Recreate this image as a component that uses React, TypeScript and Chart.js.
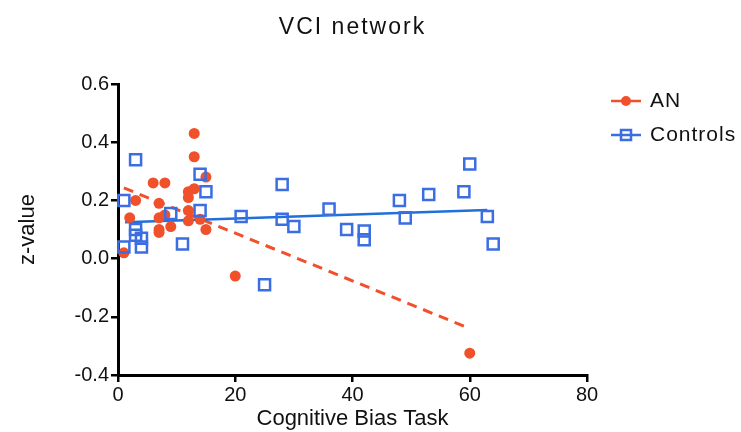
import { useEffect, useRef } from 'react';
import { Chart, registerables } from 'chart.js';

Chart.register(...registerables);

const chartTitle = 'VCI network';
const xTitle = 'Cognitive Bias Task';
const yTitle = 'z-value';
const seriesNames = ['AN', 'Controls'];

const anX = [1, 2, 3, 6, 8, 7, 7, 7, 7, 9, 8, 13, 13, 12, 13, 12, 12, 12, 15, 14, 15, 20, 60];
const anY = [0.02, 0.14, 0.2, 0.26, 0.26, 0.19, 0.14, 0.1, 0.09, 0.11, 0.15, 0.43, 0.35, 0.23, 0.24, 0.21, 0.165, 0.13, 0.28, 0.135, 0.1, -0.06, -0.325];

const ctX = [1, 1, 3, 3, 3, 4, 4, 9, 11, 14, 15, 14, 21, 25, 28, 28, 30, 36, 39, 42, 42, 48, 49, 53, 59, 60, 63, 64];
const ctY = [0.2, 0.04, 0.34, 0.1, 0.08, 0.07, 0.04, 0.155, 0.05, 0.29, 0.23, 0.165, 0.145, -0.09, 0.255, 0.135, 0.11, 0.17, 0.1, 0.095, 0.065, 0.2, 0.14, 0.22, 0.23, 0.325, 0.145, 0.05];

const anFitX = [1, 59.5];
const anFitY = [0.243, -0.236];
const ctFitX = [1.2, 63];
const ctFitY = [0.125, 0.167];

const xTicks = [0, 20, 40, 60, 80];
const yTicks = [-0.4, -0.2, 0, 0.2, 0.4, 0.6];

const RED = '#F0502A';
const BLUE = '#3A6EE2';
const BLUE_LINE = '#1F6FDC';
const INK = '#111111';
const FONT = "'Liberation Sans', Arial, sans-serif";

const zip = (xs: number[], ys: number[]) => xs.map((x, i) => ({ x, y: ys[i] }));

const overlayPlugin = {
  id: 'overlay',
  afterDraw(chart: any) {
    const ctx = chart.ctx as CanvasRenderingContext2D;
    const area = chart.chartArea;
    ctx.save();
    // title
    ctx.fillStyle = INK;
    ctx.font = `23px ${FONT}`;
    (ctx as any).letterSpacing = '2px';
    ctx.textAlign = 'center';
    ctx.textBaseline = 'middle';
    ctx.fillText(chartTitle, (area.left + area.right) / 2, 28);
    (ctx as any).letterSpacing = '0px';

    // legend
    const lx0 = 611;
    const lx1 = 641;
    const mx = (lx0 + lx1) / 2;
    const rows = [101, 135];
    ctx.lineWidth = 2.5;
    // AN
    ctx.strokeStyle = RED;
    ctx.beginPath();
    ctx.moveTo(lx0, rows[0]);
    ctx.lineTo(lx1, rows[0]);
    ctx.stroke();
    ctx.fillStyle = RED;
    ctx.beginPath();
    ctx.arc(mx, rows[0], 5, 0, Math.PI * 2);
    ctx.fill();
    // Controls
    ctx.strokeStyle = BLUE;
    ctx.beginPath();
    ctx.moveTo(lx0, rows[1]);
    ctx.lineTo(lx1, rows[1]);
    ctx.stroke();
    ctx.strokeRect(mx - 5, rows[1] - 5, 10, 10);

    ctx.fillStyle = INK;
    ctx.font = `21px ${FONT}`;
    (ctx as any).letterSpacing = '1px';
    ctx.textAlign = 'left';
    ctx.fillText(seriesNames[0], 650, rows[0]);
    ctx.fillText(seriesNames[1], 650, rows[1]);
    ctx.restore();
  },
};

export default function App() {
  const ref = useRef<HTMLCanvasElement>(null);
  useEffect(() => {
    if (!ref.current) return;
    const chart = new Chart(ref.current, {
      type: 'scatter',
      data: {
        datasets: [
          {
            label: seriesNames[1],
            data: zip(ctX, ctY),
            pointStyle: 'rect',
            pointRadius: 7.8,
            pointBorderWidth: 2.5,
            borderColor: BLUE,
            backgroundColor: 'rgba(255,255,255,0)',
            order: 0,
          },
          {
            label: seriesNames[0],
            data: zip(anX, anY),
            pointStyle: 'circle',
            pointRadius: 5.5,
            pointBorderWidth: 0,
            borderColor: RED,
            backgroundColor: RED,
            order: 1,
          },
          {
            label: 'Controls fit',
            type: 'line',
            data: zip(ctFitX, ctFitY),
            borderColor: BLUE_LINE,
            borderWidth: 2.5,
            pointRadius: 0,
            fill: false,
            order: 2,
          },
          {
            label: 'AN fit',
            type: 'line',
            data: zip(anFitX, anFitY),
            borderColor: RED,
            borderWidth: 3,
            borderDash: [10, 7],
            pointRadius: 0,
            fill: false,
            order: 3,
          },
        ],
      },
      options: {
        animation: false,
        responsive: false,
        devicePixelRatio: 1,
        clip: false,
        layout: { padding: { top: 84, right: 154, left: 0, bottom: 0 } },
        plugins: {
          legend: { display: false },
          title: { display: false },
          tooltip: { enabled: false },
        },
        scales: {
          x: {
            type: 'linear',
            min: xTicks[0],
            max: xTicks[xTicks.length - 1],
            afterBuildTicks: (s: any) => {
              s.ticks = xTicks.map((v) => ({ value: v }));
            },
            afterFit: (s: any) => {
              s.height = 57;
            },
            grid: { drawOnChartArea: false, drawTicks: true, tickLength: 7, color: '#000', lineWidth: 2.5 },
            border: { display: true, color: '#000', width: 3 },
            ticks: { color: INK, font: { family: FONT, size: 20 }, padding: 1, maxRotation: 0 },
            title: {
              display: true,
              text: xTitle,
              color: INK,
              font: { family: FONT, size: 22 },
              padding: { top: 0, bottom: 0 },
            },
          },
          y: {
            type: 'linear',
            min: yTicks[0],
            max: yTicks[yTicks.length - 1],
            afterBuildTicks: (s: any) => {
              s.ticks = yTicks.map((v) => ({ value: v }));
            },
            afterFit: (s: any) => {
              s.width = 118;
            },
            grid: { drawOnChartArea: false, drawTicks: true, tickLength: 7, color: '#000', lineWidth: 2.5 },
            border: { display: true, color: '#000', width: 3 },
            ticks: {
              color: INK,
              font: { family: FONT, size: 20 },
              padding: 2,
              callback: (v: any) => Number(v).toFixed(1),
            },
            title: {
              display: true,
              text: yTitle,
              color: INK,
              font: { family: FONT, size: 22 },
              padding: { top: 15, bottom: 0 },
            },
          },
        },
      },
      plugins: [overlayPlugin],
    });
    return () => chart.destroy();
  }, []);
  return (
    <div style={{ position: 'fixed', left: 0, top: 0, width: 741, height: 432, background: '#fff' }}>
      <canvas ref={ref} width={741} height={432} style={{ display: 'block' }} />
    </div>
  );
}
